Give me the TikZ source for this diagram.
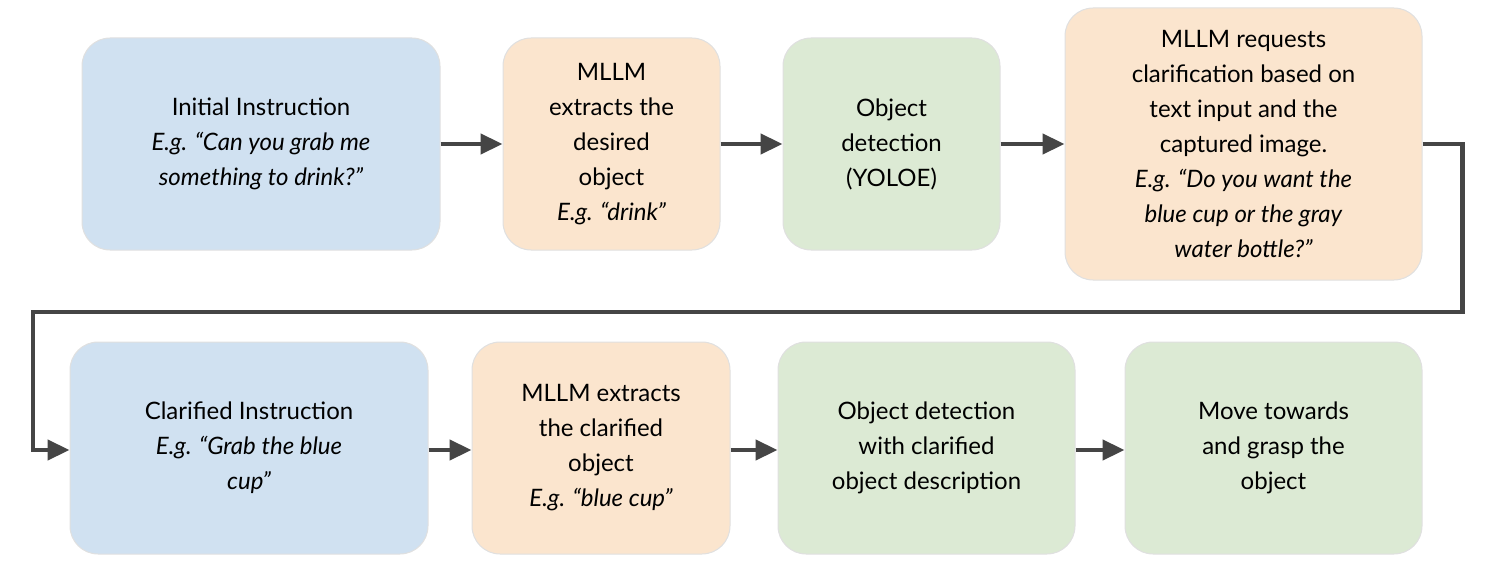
\documentclass[tikz,border=0pt]{standalone}
\usepackage{fontspec}
\setmainfont{Lato}
\usetikzlibrary{arrows.meta}
\definecolor{cblue}{HTML}{D0E1F1}
\definecolor{corange}{HTML}{FBE5CE}
\definecolor{cgreen}{HTML}{DCEAD4}
\definecolor{cline}{HTML}{454545}
\begin{document}
\begin{tikzpicture}[x=1pt,y=-1pt,
  box/.style={draw=black!12,line width=1pt,rounded corners=28pt,align=center,
    font=\fontsize{24}{35}\selectfont,inner sep=0pt},
  ar/.style={draw=cline,line width=4.5pt,-{Triangle[length=22pt,width=20pt]}}]
\useasboundingbox (0,0) rectangle (1496,572);
\node[box,fill=cblue,minimum width=358pt,minimum height=212pt] (b1) at (261,144)
 {Initial Instruction\\\textit{E.g. “Can you grab me}\\\textit{something to drink?”}};
\node[box,fill=corange,minimum width=217pt,minimum height=212pt] (b2) at (611.5,144)
 {MLLM\\extracts the\\desired\\object\\\textit{E.g. “drink”}};
\node[box,fill=cgreen,minimum width=217pt,minimum height=212pt] (b3) at (891.5,144)
 {Object\\detection\\(YOLOE)};
\node[box,fill=corange,minimum width=357pt,minimum height=272pt] (b4) at (1243.5,144)
 {MLLM requests\\clarification based on\\text input and the\\captured image.\\\textit{E.g. “Do you want the}\\\textit{blue cup or the gray}\\\textit{water bottle?”}};
\node[box,fill=cblue,minimum width=358pt,minimum height=212pt] (b5) at (249,448)
 {Clarified Instruction\\\textit{E.g. “Grab the blue}\\\textit{cup”}};
\node[box,fill=corange,minimum width=258pt,minimum height=212pt] (b6) at (601,448)
 {MLLM extracts\\the clarified\\object\\\textit{E.g. “blue cup”}};
\node[box,fill=cgreen,minimum width=297pt,minimum height=212pt] (b7) at (926.5,448)
 {Object detection\\with clarified\\object description};
\node[box,fill=cgreen,minimum width=297pt,minimum height=212pt] (b8) at (1273.5,448)
 {Move towards\\and grasp the\\object};
\draw[ar] (b1.east) -- (b2.west);
\draw[ar] (b2.east) -- (b3.west);
\draw[ar] (b3.east) -- (b4.west);
\draw[ar] (b5.east |- 0,450) -- (b6.west |- 0,450);
\draw[ar] (b6.east |- 0,450) -- (b7.west |- 0,450);
\draw[ar] (b7.east |- 0,450) -- (b8.west |- 0,450);
\draw[ar,-{Triangle[length=22pt,width=20pt]}] (b4.east) -- ++(40,0) |- (33,312) |- (b5.west |- 0,450);
\end{tikzpicture}
\end{document}
